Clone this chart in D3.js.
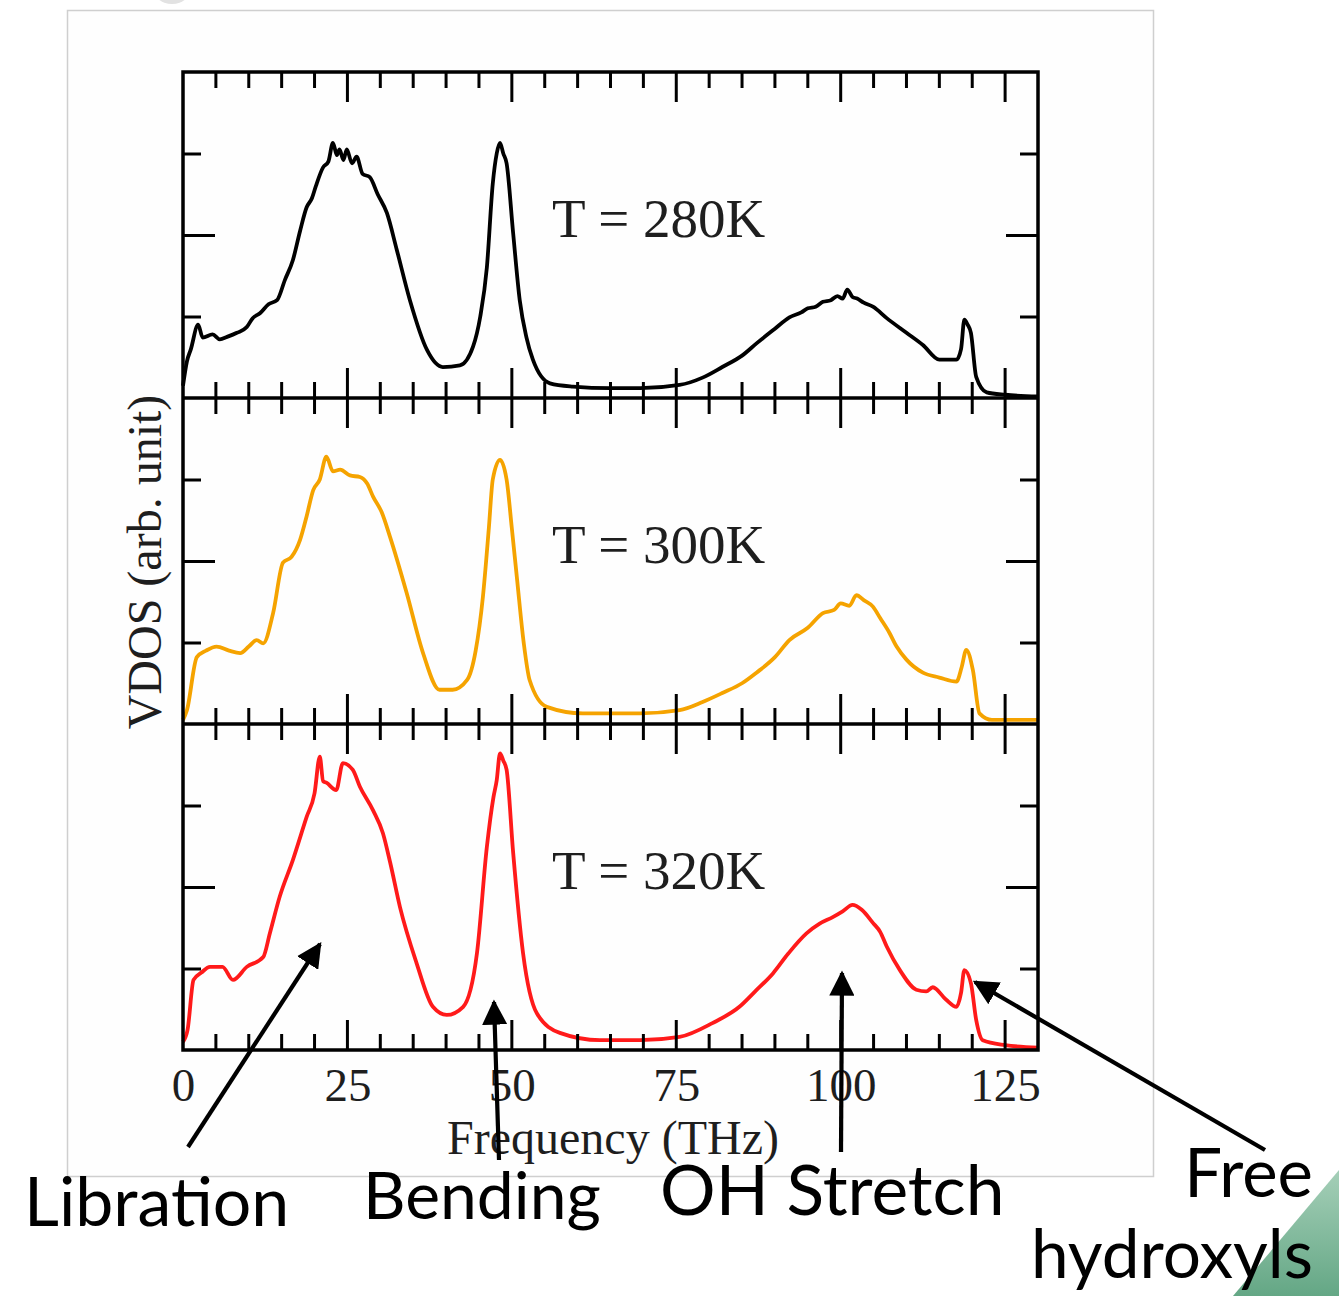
<!DOCTYPE html>
<html>
<head>
<meta charset="utf-8">
<script src="https://cdn.jsdelivr.net/npm/d3@7"></script>
<style>
  body { margin: 0; background: #fff; }
  svg { display: block; }
  .serif { font-family: "Liberation Serif", "Times New Roman", serif; fill: #1e1e1e; }
  .note { font-family: Lato, "Open Sans", sans-serif; fill: #000; }
</style>
</head>
<body>
<svg id="chart" width="1339" height="1296"></svg>
<script>
// VDOS of water at three temperatures (arb. units 0..4 per panel)
const freq280 = [0, 0.6, 1.2, 2.3, 3.0, 4.5, 5.6, 6.7, 8.2, 9.7, 10.6, 11.7, 13, 14.3, 15.5, 16.7, 17.8, 18.8, 19.6, 20.2, 21.3, 22.1, 22.8, 23.4, 23.8, 24.4, 24.9, 25.7, 26.4, 27.3, 28.4, 29.6, 31, 32.5, 34.5, 37.1, 39.5, 42.1, 44.1, 45.2, 46.2, 47.1, 47.7, 48.2, 48.7, 49.2, 50.2, 51.2, 52.2, 53.2, 55.8, 59.3, 65, 69.5, 75.5, 79, 82, 85, 87.2, 90, 92.2, 94, 95, 96.2, 97.3, 98.5, 99.5, 100.3, 101, 101.8, 102.5, 103.5, 104.9, 107, 110, 112.5, 115, 117.6, 118.3, 118.8, 119.3, 119.8, 120.6, 122.2, 125, 130];
const vdos280 = [0.15, 0.45, 0.6, 0.9, 0.74, 0.78, 0.72, 0.75, 0.8, 0.87, 0.98, 1.04, 1.15, 1.2, 1.45, 1.69, 2.05, 2.34, 2.45, 2.6, 2.83, 2.9, 3.13, 2.98, 3.05, 2.92, 3.05, 2.88, 2.96, 2.75, 2.71, 2.5, 2.27, 1.82, 1.2, 0.59, 0.38, 0.4, 0.63, 1.0, 1.6, 2.63, 3.0, 3.13, 3.0, 2.88, 2.02, 1.2, 0.75, 0.47, 0.18, 0.14, 0.12, 0.12, 0.16, 0.25, 0.38, 0.52, 0.67, 0.85, 0.99, 1.05, 1.1, 1.12, 1.18, 1.2, 1.25, 1.22, 1.33, 1.24, 1.22, 1.17, 1.12, 0.98, 0.8, 0.65, 0.47, 0.47, 0.6, 0.96, 0.9, 0.8, 0.26, 0.07, 0.04, 0.02];

const freq300 = [0, 0.6, 2.1, 3.5, 5.1, 7, 8.7, 10, 11.2, 12.2, 13.7, 15.2, 16.5, 17.8, 18.8, 19.8, 20.8, 21.8, 22.8, 23.9, 25.4, 26.9, 28, 28.9, 30.2, 31.5, 34, 36.5, 39, 41, 43.2, 44.5, 45.6, 46.5, 47.1, 48.2, 49.2, 50, 50.8, 51.8, 52.7, 55.3, 60.8, 69.5, 75.5, 79, 82, 85, 87.2, 90, 92.2, 95, 97.3, 99, 100, 101.3, 102.4, 103.5, 104.9, 106, 107.4, 108.5, 110, 112.5, 115, 117.6, 118.4, 119.1, 120.1, 121.1, 123, 130];
const vdos300 = [0.05, 0.17, 0.82, 0.9, 0.95, 0.9, 0.87, 0.95, 1.03, 0.99, 1.36, 1.98, 2.05, 2.26, 2.55, 2.87, 3.0, 3.28, 3.1, 3.12, 3.05, 3.03, 2.95, 2.79, 2.6, 2.29, 1.61, 0.87, 0.42, 0.42, 0.54, 0.9, 1.56, 2.4, 3.0, 3.24, 3.0, 2.4, 1.77, 1.0, 0.54, 0.21, 0.13, 0.13, 0.17, 0.27, 0.38, 0.5, 0.63, 0.82, 1.03, 1.18, 1.36, 1.4, 1.48, 1.45, 1.58, 1.52, 1.44, 1.3, 1.12, 0.95, 0.79, 0.63, 0.57, 0.52, 0.7, 0.91, 0.66, 0.13, 0.05, 0.05];

const freq320 = [0, 0.7, 1.6, 2.8, 4.1, 6, 7.6, 9.7, 12.2, 13.2, 14.7, 16.7, 18.8, 20, 20.8, 21.3, 21.8, 23.3, 24.3, 25.8, 26.9, 28.9, 30.4, 31.5, 33, 35.5, 38, 40.1, 42.6, 44.7, 46.2, 47.2, 47.7, 48.2, 48.7, 49.2, 50.2, 51.7, 53.8, 57.3, 63.4, 69.5, 75.5, 80.5, 84.6, 87, 89.7, 92, 94.8, 96.8, 98.8, 100.3, 101.8, 103.2, 104.9, 106, 107, 109, 111.5, 113, 114, 116, 117.6, 118.3, 118.8, 119.8, 120.6, 121.6, 125, 130];
const vdos320 = [0.1, 0.25, 0.86, 0.95, 1.02, 1.02, 0.86, 1.02, 1.14, 1.43, 1.88, 2.33, 2.86, 3.15, 3.6, 3.3, 3.28, 3.19, 3.52, 3.44, 3.23, 2.94, 2.66, 2.3, 1.75, 1.07, 0.53, 0.43, 0.53, 1.19, 2.49, 3.1, 3.31, 3.64, 3.55, 3.44, 2.42, 1.19, 0.45, 0.21, 0.12, 0.12, 0.16, 0.33, 0.53, 0.72, 0.94, 1.18, 1.43, 1.55, 1.63, 1.7, 1.78, 1.72, 1.56, 1.45, 1.27, 0.98, 0.74, 0.72, 0.77, 0.62, 0.53, 0.7, 0.98, 0.82, 0.37, 0.12, 0.06, 0.03];

const panelLabels = ["T = 280K", "T = 300K", "T = 320K"];
const panelColors = ["#000000", "#f5a300", "#ff1a1a"];
const xTickValues = [0, 25, 50, 75, 100, 125];
const notes = ["Libration", "Bending", "OH Stretch", "Free", "hydroxyls"];

const series = [
  {freq: freq280, vdos: vdos280},
  {freq: freq300, vdos: vdos300},
  {freq: freq320, vdos: vdos320}
];

const svg = d3.select("#chart");

// slide background bits
svg.append("ellipse").attr("cx", 172).attr("cy", -14).attr("rx", 20).attr("ry", 18).attr("fill", "#e2e2e2");
svg.append("rect")
  .attr("x", 67.5).attr("y", 10.5).attr("width", 1086).attr("height", 1166)
  .attr("fill", "#fefefe").attr("stroke", "#cfcfcf").attr("stroke-width", 1.5);

const defs = svg.append("defs");
const grad = defs.append("linearGradient").attr("id", "greenFade")
  .attr("x1", 0).attr("y1", 0).attr("x2", 0).attr("y2", 1);
grad.append("stop").attr("offset", "0%").attr("stop-color", "#a5cfb8");
grad.append("stop").attr("offset", "100%").attr("stop-color", "#64a785");
svg.append("polygon")
  .attr("points", "1233,1296 1339,1170 1339,1296")
  .attr("fill", "url(#greenFade)");

// plot geometry
const plotLeft = 183, plotRight = 1038, plotTop = 72, panelH = 326;
const x = d3.scaleLinear().domain([0, 130]).range([plotLeft, plotRight]);

const chart = svg.append("g");

series.forEach(function (s, i) {
  const y0 = plotTop + i * panelH;
  const y = d3.scaleLinear().domain([0, 4]).range([y0 + panelH, y0]);
  const pts = s.freq.map(function (f, k) { return [f, s.vdos[k]]; });

  const line = d3.line()
    .x(function (d) { return x(d[0]); })
    .y(function (d) { return y(d[1]); })
    .curve(d3.curveMonotoneX);

  chart.append("path")
    .attr("d", line(pts))
    .attr("fill", "none")
    .attr("stroke", panelColors[i])
    .attr("stroke-width", 3.8)
    .attr("stroke-linejoin", "round");

  // y ticks, left and right, pointing inward
  const yl = d3.axisRight(y).tickValues([1, 2, 3]).tickFormat("").tickSizeOuter(0);
  const yr = d3.axisLeft(y).tickValues([1, 2, 3]).tickFormat("").tickSizeOuter(0);
  const gl = chart.append("g").attr("transform", "translate(" + plotLeft + ",0)").call(yl);
  const gr = chart.append("g").attr("transform", "translate(" + plotRight + ",0)").call(yr);
  [[gl, 1], [gr, -1]].forEach(function (p) {
    const g = p[0], dir = p[1];
    g.select(".domain").remove();
    g.selectAll(".tick line").attr("stroke", "#000").attr("stroke-width", 3)
      .attr("x2", function (d) { return dir * (d === 2 ? 32 : 18); });
  });

  // x ticks at panel top (down) and bottom (up)
  const minor = d3.range(5, 130, 5);
  [y0, y0 + panelH].forEach(function (yy, j) {
    const dir = j === 0 ? 1 : -1;
    chart.append("g").selectAll("line")
      .data(minor)
      .join("line")
      .attr("x1", function (v) { return x(v); })
      .attr("x2", function (v) { return x(v); })
      .attr("y1", yy)
      .attr("y2", function (v) { return yy + dir * (v % 25 === 0 ? 30 : 16); })
      .attr("stroke", "#000").attr("stroke-width", 3);
  });

  chart.append("text")
    .attr("class", "serif")
    .attr("x", 552).attr("y", y0 + 165)
    .attr("font-size", 55)
    .text(panelLabels[i]);
});

// frame and panel dividers
chart.append("rect")
  .attr("x", plotLeft).attr("y", plotTop).attr("width", plotRight - plotLeft).attr("height", 3 * panelH)
  .attr("fill", "none").attr("stroke", "#000").attr("stroke-width", 3.5);
[1, 2].forEach(function (k) {
  chart.append("line")
    .attr("x1", plotLeft).attr("x2", plotRight)
    .attr("y1", plotTop + k * panelH).attr("y2", plotTop + k * panelH)
    .attr("stroke", "#000").attr("stroke-width", 3.5);
});

// x axis labels
const xAxis = d3.axisBottom(x).tickValues(xTickValues).tickSize(0).tickPadding(18);
const gx = chart.append("g").attr("transform", "translate(0," + (plotTop + 3 * panelH) + ")").call(xAxis);
gx.select(".domain").remove();
gx.selectAll("text")
  .attr("class", "serif")
  .attr("font-size", 47)
  .attr("fill", "#1e1e1e");

svg.append("text").attr("class", "serif")
  .attr("x", 613).attr("y", 1154)
  .attr("text-anchor", "middle").attr("font-size", 48)
  .text("Frequency (THz)");

svg.append("text").attr("class", "serif")
  .attr("transform", "translate(161,562) rotate(-90)")
  .attr("text-anchor", "middle").attr("font-size", 48)
  .text("VDOS (arb. unit)");

// annotation arrows
defs.append("marker").attr("id", "head")
  .attr("viewBox", "0 0 10 10").attr("refX", 9).attr("refY", 5)
  .attr("markerWidth", 6).attr("markerHeight", 6).attr("orient", "auto")
  .attr("markerUnits", "strokeWidth")
  .append("path").attr("d", "M0,0 L10,5 L0,10 z").attr("fill", "#000");

const arrows = [
  [188, 1147, 320, 944],
  [499, 1160, 494, 1002],
  [841, 1152, 842, 973],
  [1265, 1150, 975, 982]
];
svg.append("g").selectAll("line")
  .data(arrows)
  .join("line")
  .attr("x1", function (d) { return d[0]; })
  .attr("y1", function (d) { return d[1]; })
  .attr("x2", function (d) { return d[2]; })
  .attr("y2", function (d) { return d[3]; })
  .attr("stroke", "#000").attr("stroke-width", 4.2)
  .attr("marker-end", "url(#head)");

const notePos = [[24, 1226, "start", 68], [363, 1219, "start", 66], [660, 1215, "start", 69.5], [1313, 1197, "end", 67], [1313, 1278, "end", 67.5]];
svg.append("g").selectAll("text")
  .data(notes)
  .join("text")
  .attr("class", "note")
  .attr("x", function (d, i) { return notePos[i][0]; })
  .attr("y", function (d, i) { return notePos[i][1]; })
  .attr("text-anchor", function (d, i) { return notePos[i][2]; })
  .attr("font-size", function (d, i) { return notePos[i][3]; })
  .text(function (d) { return d; });
</script>
</body>
</html>
